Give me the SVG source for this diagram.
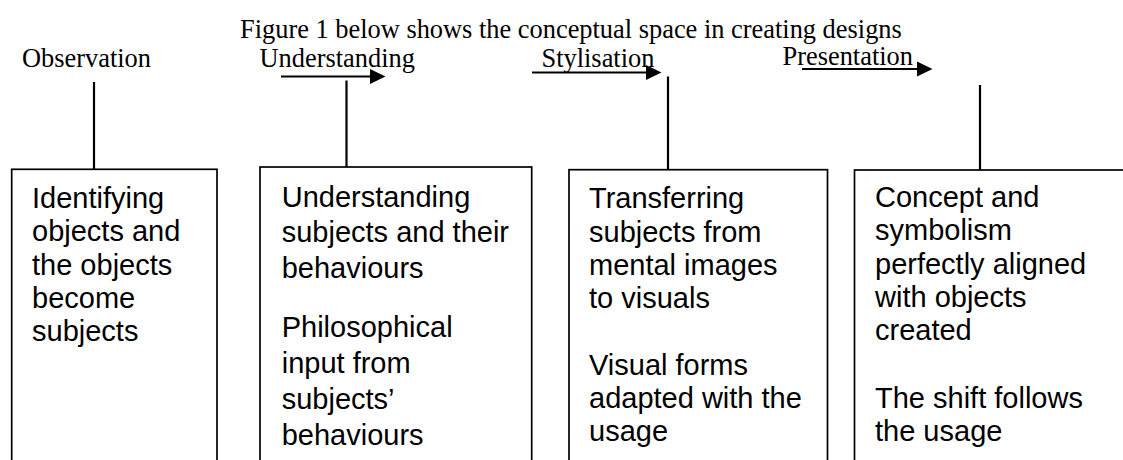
<svg xmlns="http://www.w3.org/2000/svg" width="1123" height="460" viewBox="0 0 1123 460">
<style>
.ser{font-family:"Liberation Serif","Times New Roman",serif;font-size:26.4px;fill:#000}
.san{font-family:"Liberation Sans",Arial,sans-serif;font-size:29px;fill:#000}
.box{fill:#fff;stroke:#000;stroke-width:1.7}
.con{stroke:#000;stroke-width:2.2;fill:none}
</style>
<defs>
<marker id="ah" markerUnits="userSpaceOnUse" markerWidth="16" markerHeight="16" refX="0" refY="7.5" orient="auto" viewBox="0 0 16 15">
<path d="M0,0 L15.5,7.5 L0,15 z" fill="#000"/>
</marker>
</defs>
<rect width="1123" height="460" fill="#fff"/>
<text id="title" class="ser" x="240" y="37.5">Figure 1 below shows the conceptual space in creating designs</text>
<g id="labels">
<text class="ser" x="22" y="67">Observation</text>
<text class="ser" x="259.5" y="66.7">Understanding</text>
<text class="ser" x="541.5" y="66.5">Stylisation</text>
<text class="ser" x="782.5" y="65">Presentation</text>
</g>
<g id="connectors">
<line class="con" x1="94" y1="82" x2="94" y2="169"/>
<line class="con" x1="346.5" y1="80.5" x2="346.5" y2="167"/>
<line class="con" x1="668" y1="76.5" x2="668" y2="169"/>
<line class="con" x1="980" y1="85" x2="980" y2="170"/>
<line class="con" x1="281" y1="76.5" x2="370" y2="76.5" marker-end="url(#ah)"/>
<line class="con" x1="532" y1="72.5" x2="646" y2="72.5" marker-end="url(#ah)"/>
<line class="con" x1="802" y1="69" x2="917" y2="69" marker-end="url(#ah)"/>
</g>
<g id="observation">
<rect class="box" x="11.7" y="169.3" width="205.3" height="310"/>
<text class="san" x="32" y="208">Identifying</text>
<text class="san" x="32" y="241.3">objects and</text>
<text class="san" x="32" y="274.6">the objects</text>
<text class="san" x="32" y="307.9">become</text>
<text class="san" x="32" y="341.2">subjects</text>
</g>
<g id="understanding">
<rect class="box" x="260" y="167" width="271.7" height="310"/>
<text class="san" x="281.7" y="206.5">Understanding</text>
<text class="san" x="281.7" y="242">subjects and their</text>
<text class="san" x="281.7" y="278">behaviours</text>
<text class="san" x="281.7" y="337">Philosophical</text>
<text class="san" x="281.7" y="373">input from</text>
<text class="san" x="281.7" y="409">subjects’</text>
<text class="san" x="281.7" y="445">behaviours</text>
</g>
<g id="stylisation">
<rect class="box" x="569" y="169.7" width="258.5" height="310"/>
<text class="san" x="589" y="208.3">Transferring</text>
<text class="san" x="589" y="241.6">subjects from</text>
<text class="san" x="589" y="274.9">mental images</text>
<text class="san" x="589" y="308.2">to visuals</text>
<text class="san" x="589" y="374.8">Visual forms</text>
<text class="san" x="589" y="408.1">adapted with the</text>
<text class="san" x="589" y="441.4">usage</text>
</g>
<g id="presentation">
<rect class="box" x="854.5" y="170" width="290" height="310"/>
<text class="san" x="875" y="207">Concept and</text>
<text class="san" x="875" y="240.3">symbolism</text>
<text class="san" x="875" y="273.6">perfectly aligned</text>
<text class="san" x="875" y="306.9">with objects</text>
<text class="san" x="875" y="340.2">created</text>
<text class="san" x="875" y="408.1">The shift follows</text>
<text class="san" x="875" y="441.4">the usage</text>
</g>
</svg>
